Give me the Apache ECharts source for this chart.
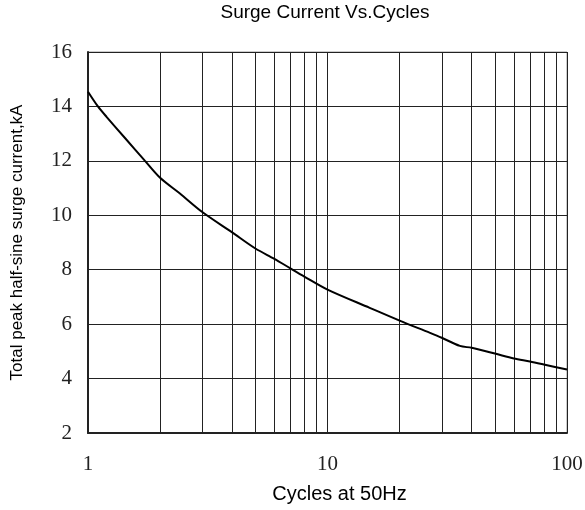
<!DOCTYPE html>
<html>
<head>
<meta charset="utf-8">
<script src="https://cdn.jsdelivr.net/npm/echarts@6/dist/echarts.min.js"></script>
<style>
  html, body { margin: 0; padding: 0; background: #fff; }
  #chart { width: 585px; height: 510px; }
</style>
</head>
<body>
<div id="chart"></div>
<script>
// 曲线数据 (cycles, kA)
var cycles = [1, 1.1, 1.2, 1.43, 1.73, 2, 2.42, 3, 4, 5, 6, 7, 8, 10, 15, 20, 26.8, 30, 35.7, 40, 50, 60, 70, 80, 100];
var current = [14.54, 14.0, 13.6, 12.83, 12.0, 11.38, 10.8, 10.12, 9.37, 8.78, 8.4, 8.05, 7.75, 7.27, 6.6, 6.13, 5.68, 5.5, 5.2, 5.13, 4.92, 4.74, 4.63, 4.52, 4.33];
// 次网格线 (对数轴 2..9, 20..90)
var minorX = [2, 3, 4, 5, 6, 7, 8, 9, 20, 30, 40, 50, 60, 70, 80, 90];
var yTicks = [2, 4, 6, 8, 10, 12, 14, 16];

var chart = echarts.init(document.getElementById('chart'), null, { renderer: 'canvas' });

var serif = "'Liberation Serif', 'DejaVu Serif', serif";
var sans = "'Liberation Sans', Arial, sans-serif";

var option = {
  animation: false,
  backgroundColor: '#fff',
  title: {
    text: 'Surge Current Vs.Cycles',
    left: 320,
    textAlign: 'center',
    top: 0,
    padding: [3, 5],
    textStyle: { fontFamily: sans, fontSize: 19, fontWeight: 'normal', color: '#000' }
  },
  grid: {
    left: 88, right: 18, top: 52, bottom: 77,
    outerBoundsMode: 'none',
    containLabel: false,
    show: true,
    borderColor: '#999',
    borderWidth: 1
  },
  xAxis: {
    type: 'log',
    logBase: 10,
    min: 1,
    max: 100,
    name: 'Cycles at 50Hz',
    nameLocation: 'middle',
    nameGap: 51,
    nameTextStyle: { fontFamily: sans, fontSize: 20, color: '#000', padding: [0, 0, 0, 24] },
    axisLine: { show: true, lineStyle: { color: '#222', width: 2 } },
    axisTick: { show: false },
    axisLabel: { margin: 21, fontFamily: serif, fontSize: 21, color: '#222' },
    splitLine: { show: true, lineStyle: { color: '#222', width: 1 } }
  },
  yAxis: {
    type: 'value',
    min: yTicks[0],
    max: yTicks[yTicks.length - 1],
    interval: 2,
    name: 'Total peak half-sine surge current,kA',
    nameLocation: 'middle',
    nameGap: 62,
    nameTextStyle: { fontFamily: sans, fontSize: 17, color: '#000' },
    axisLine: { show: true, lineStyle: { color: '#222', width: 2 } },
    axisTick: { show: false },
    axisLabel: { margin: 16, fontFamily: serif, fontSize: 21, color: '#222' },
    splitLine: { show: true, lineStyle: { color: '#222', width: 1 } }
  },
  series: [
    {
      type: 'line',
      data: cycles.map(function (c, i) { return [c, current[i]]; }),
      smooth: 0.3,
      showSymbol: false,
      symbol: 'none',
      lineStyle: { color: '#000', width: 2 },
      markLine: {
        silent: true,
        symbol: 'none',
        label: { show: false },
        lineStyle: { color: '#222', width: 1, type: 'solid' },
        data: minorX.map(function (v) { return { xAxis: v }; }),
        z: 1
      }
    }
  ]
};

chart.setOption(option);
</script>
</body>
</html>
